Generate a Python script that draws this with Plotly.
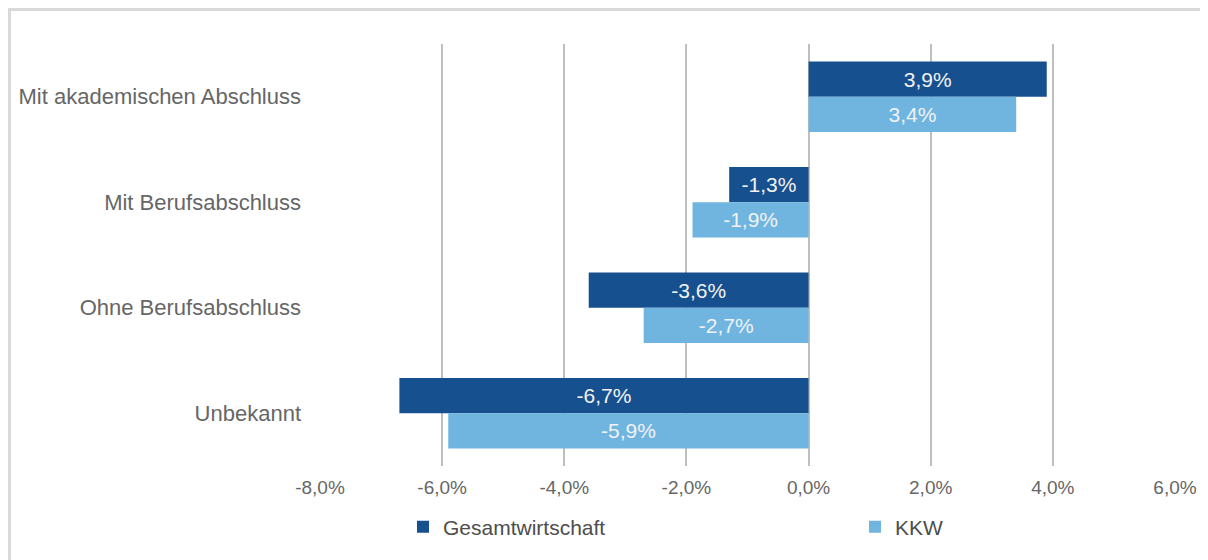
import plotly.graph_objects as go

categories = ["Mit akademischen Abschluss", "Mit Berufsabschluss", "Ohne Berufsabschluss", "Unbekannt"]
gesamt = [3.9, -1.3, -3.6, -6.7]
kkw = [3.4, -1.9, -2.7, -5.9]
tick_vals = [-8, -6, -4, -2, 0, 2, 4, 6]

dark = "#17508F"
light = "#6FB5E0"
grey_text = "#666666"

def lab(v):
    return f"{v:.1f}%".replace(".", ",")

W, H = 1200, 552
ML, MR, MT, MB = 312, 33, 36, 94
PW, PH = W - ML - MR, H - MT - MB

fig = go.Figure()
fig.add_trace(go.Bar(
    y=categories, x=gesamt, orientation="h", name="Gesamtwirtschaft", legend="legend",
    marker=dict(color=dark, line=dict(width=0)),
    text=[lab(v) for v in gesamt], textposition="inside", insidetextanchor="middle",
    textfont=dict(color="#F2F2F2", size=21, family="Liberation Sans"),
))
fig.add_trace(go.Bar(
    y=categories, x=kkw, orientation="h", name="KKW", legend="legend2",
    marker=dict(color=light, line=dict(width=0)),
    text=[lab(v) for v in kkw], textposition="inside", insidetextanchor="middle",
    textfont=dict(color="#F2F2F2", size=21, family="Liberation Sans"),
))

leg_font = dict(family="Liberation Sans", size=21, color="#4D4D4D")
fig.update_layout(
    width=W, height=H,
    margin=dict(l=ML, r=MR, t=MT, b=MB, autoexpand=False),
    barmode="group", bargap=0.33, bargroupgap=0,
    plot_bgcolor="white", paper_bgcolor="white",
    separators=",.",
    showlegend=True,
    legend=dict(orientation="h", x=(395 - ML) / PW, y=-(519 - (MT + PH)) / PH,
                xanchor="left", yanchor="middle", font=leg_font, itemwidth=30,
                bgcolor="rgba(0,0,0,0)"),
    legend2=dict(orientation="h", x=(847 - ML) / PW, y=-(519 - (MT + PH)) / PH,
                 xanchor="left", yanchor="middle", font=leg_font, itemwidth=30,
                 bgcolor="rgba(0,0,0,0)"),
    font=dict(family="Liberation Sans", color=grey_text),
)
fig.update_xaxes(
    range=[-8, 6], tickvals=tick_vals, ticktext=[lab(v) for v in tick_vals],
    showgrid=True, gridcolor="#BFBFBF", gridwidth=2, zeroline=True, zerolinecolor="#BFBFBF", zerolinewidth=2,
    showline=False, ticks="", tickfont=dict(family="Liberation Sans", size=19, color=grey_text),
    ticklabelstandoff=8,
)
fig.update_yaxes(
    autorange="reversed", showgrid=False, showline=False, ticks="",
    tickfont=dict(family="Liberation Sans", size=22, color=grey_text),
    ticklabelstandoff=18,
)
fig.add_shape(type="rect", xref="paper", yref="paper",
              x0=(1.5 - ML) / PW, x1=(W + 40 - ML) / PW,
              y0=-(MB + 40) / PH, y1=1 + (MT - 1.5) / PH,
              line=dict(color="#D9D9D9", width=3), fillcolor="rgba(0,0,0,0)", layer="below")

fig.write_html("out.html")
